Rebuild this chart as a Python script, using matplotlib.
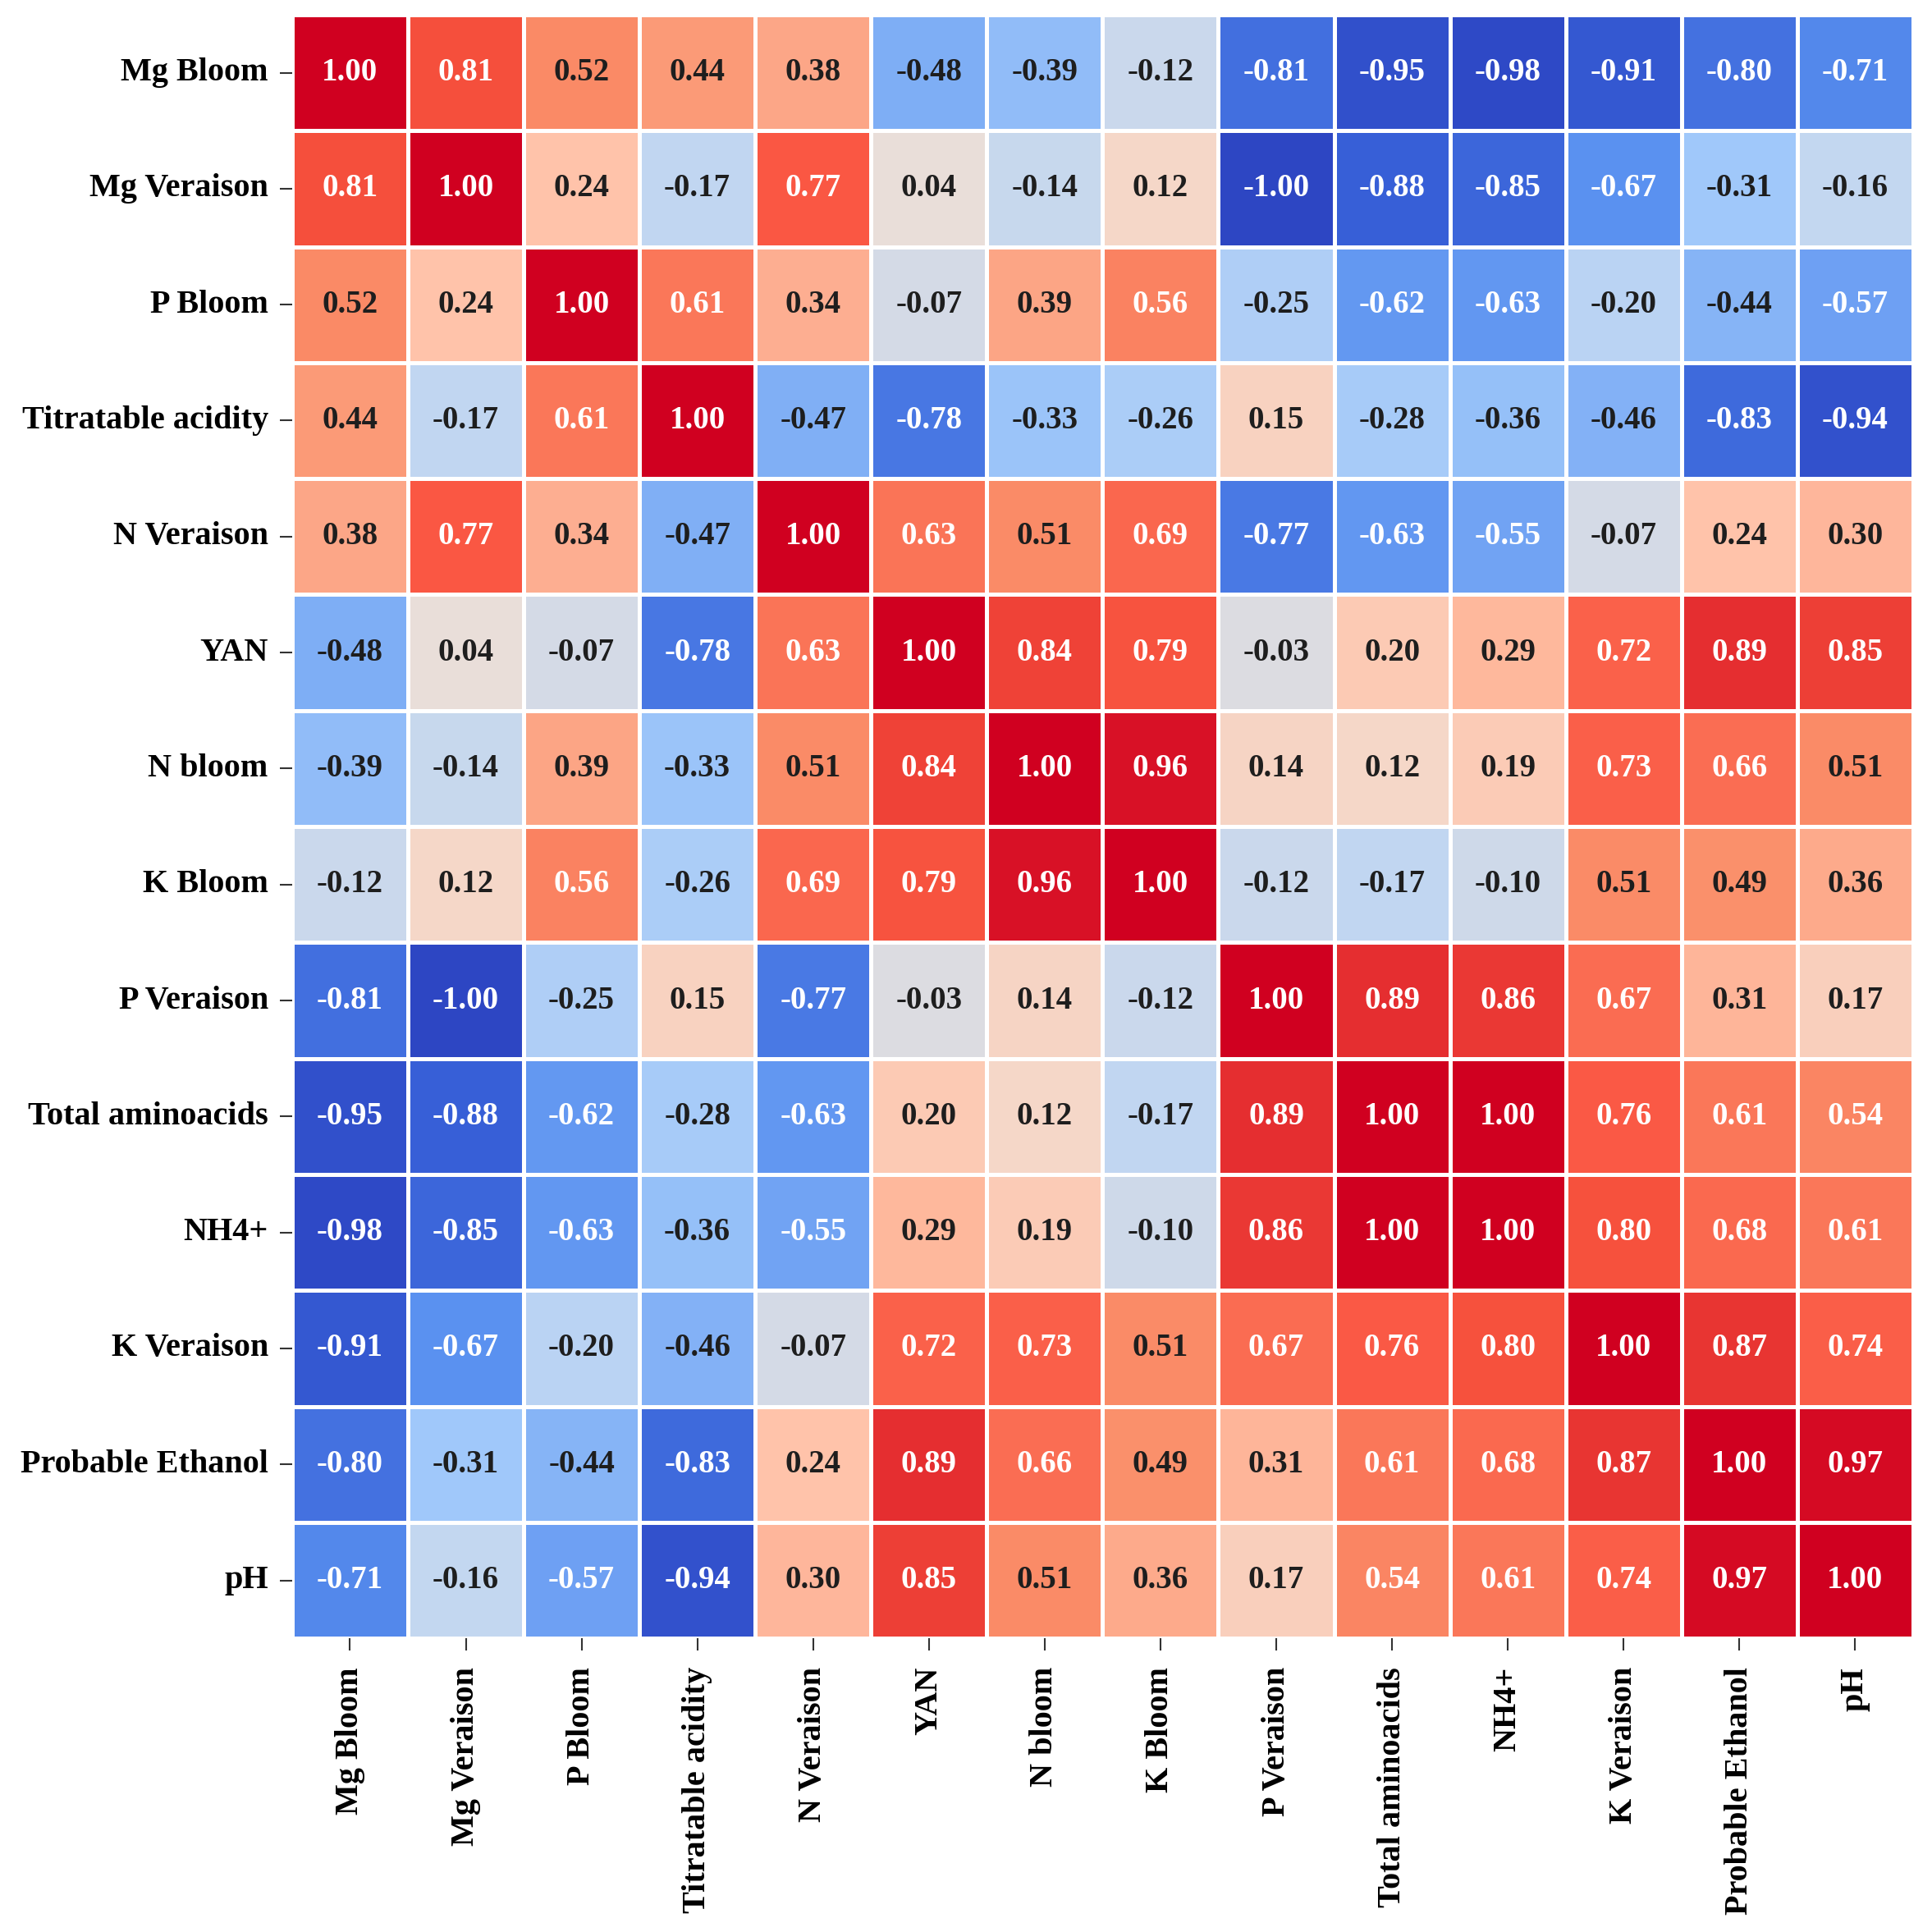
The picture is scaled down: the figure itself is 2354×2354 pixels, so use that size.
import numpy as np
import matplotlib
matplotlib.use("Agg")
import matplotlib.pyplot as plt
import seaborn as sns
from matplotlib.colors import LinearSegmentedColormap

# Variables (same order on both axes)
labels = ["Mg Bloom", "Mg Veraison", "P Bloom", "Titratable acidity", "N Veraison",
          "YAN", "N bloom", "K Bloom", "P Veraison", "Total aminoacids",
          "NH4+", "K Veraison", "Probable Ethanol", "pH"]

# Correlation matrix, one row per variable
mg_bloom      = [1.00, 0.81, 0.52, 0.44, 0.38, -0.48, -0.39, -0.12, -0.81, -0.95, -0.98, -0.91, -0.80, -0.71]
mg_veraison   = [0.81, 1.00, 0.24, -0.17, 0.77, 0.04, -0.14, 0.12, -1.00, -0.88, -0.85, -0.67, -0.31, -0.16]
p_bloom       = [0.52, 0.24, 1.00, 0.61, 0.34, -0.07, 0.39, 0.56, -0.25, -0.62, -0.63, -0.20, -0.44, -0.57]
titr_acidity  = [0.44, -0.17, 0.61, 1.00, -0.47, -0.78, -0.33, -0.26, 0.15, -0.28, -0.36, -0.46, -0.83, -0.94]
n_veraison    = [0.38, 0.77, 0.34, -0.47, 1.00, 0.63, 0.51, 0.69, -0.77, -0.63, -0.55, -0.07, 0.24, 0.30]
yan           = [-0.48, 0.04, -0.07, -0.78, 0.63, 1.00, 0.84, 0.79, -0.03, 0.20, 0.29, 0.72, 0.89, 0.85]
n_bloom       = [-0.39, -0.14, 0.39, -0.33, 0.51, 0.84, 1.00, 0.96, 0.14, 0.12, 0.19, 0.73, 0.66, 0.51]
k_bloom       = [-0.12, 0.12, 0.56, -0.26, 0.69, 0.79, 0.96, 1.00, -0.12, -0.17, -0.10, 0.51, 0.49, 0.36]
p_veraison    = [-0.81, -1.00, -0.25, 0.15, -0.77, -0.03, 0.14, -0.12, 1.00, 0.89, 0.86, 0.67, 0.31, 0.17]
total_amino   = [-0.95, -0.88, -0.62, -0.28, -0.63, 0.20, 0.12, -0.17, 0.89, 1.00, 1.00, 0.76, 0.61, 0.54]
nh4           = [-0.98, -0.85, -0.63, -0.36, -0.55, 0.29, 0.19, -0.10, 0.86, 1.00, 1.00, 0.80, 0.68, 0.61]
k_veraison    = [-0.91, -0.67, -0.20, -0.46, -0.07, 0.72, 0.73, 0.51, 0.67, 0.76, 0.80, 1.00, 0.87, 0.74]
prob_ethanol  = [-0.80, -0.31, -0.44, -0.83, 0.24, 0.89, 0.66, 0.49, 0.31, 0.61, 0.68, 0.87, 1.00, 0.97]
ph            = [-0.71, -0.16, -0.57, -0.94, 0.30, 0.85, 0.51, 0.36, 0.17, 0.54, 0.61, 0.74, 0.97, 1.00]

corr = np.array([mg_bloom, mg_veraison, p_bloom, titr_acidity, n_veraison, yan, n_bloom,
                 k_bloom, p_veraison, total_amino, nh4, k_veraison, prob_ethanol, ph])

# A more saturated coolwarm, as it looks in the picture
cmap = LinearSegmentedColormap.from_list("vivid_coolwarm", [
    (0.000, (45/255, 70/255, 195/255)),
    (0.060, (55/255, 95/255, 215/255)),
    (0.165, (90/255, 145/255, 240/255)),
    (0.345, (160/255, 200/255, 250/255)),
    (0.420, (195/255, 215/255, 240/255)),
    (0.520, (232/255, 222/255, 218/255)),
    (0.560, (245/255, 215/255, 200/255)),
    (0.620, (255/255, 195/255, 170/255)),
    (0.750, (250/255, 142/255, 105/255)),
    (0.885, (250/255, 88/255, 68/255)),
    (0.905, (245/255, 80/255, 60/255)),
    (1.000, (208/255, 0/255, 32/255)),
])

plt.rcParams['font.family'] = ['Liberation Serif', 'DejaVu Serif']
plt.rcParams['font.weight'] = 'bold'

fig = plt.figure(figsize=(23.54, 23.54), dpi=100)
ax = fig.add_axes([0.1512, 0.152, 0.839, 0.8404])

sns.heatmap(corr, ax=ax, cmap=cmap, vmin=-1, vmax=1, cbar=False,
            annot=True, fmt=".2f", linewidths=2.2, linecolor="white",
            xticklabels=labels, yticklabels=labels,
            annot_kws={"fontsize": 28, "fontweight": "bold"})

# white text on the strong cells, dark on the pale ones
for txt in ax.texts:
    v = float(txt.get_text())
    txt.set_color("white" if abs(v) >= 0.535 else "#1e1e1e")

ax.tick_params(axis="both", length=11, width=1.5, color="#333333")
ax.tick_params(axis="y", pad=10)
ax.tick_params(axis="x", pad=14)
plt.setp(ax.get_xticklabels(), rotation=90, fontsize=29, fontweight="bold")
plt.setp(ax.get_yticklabels(), rotation=0, fontsize=29, fontweight="bold")

fig.savefig("out.png", dpi=100)
